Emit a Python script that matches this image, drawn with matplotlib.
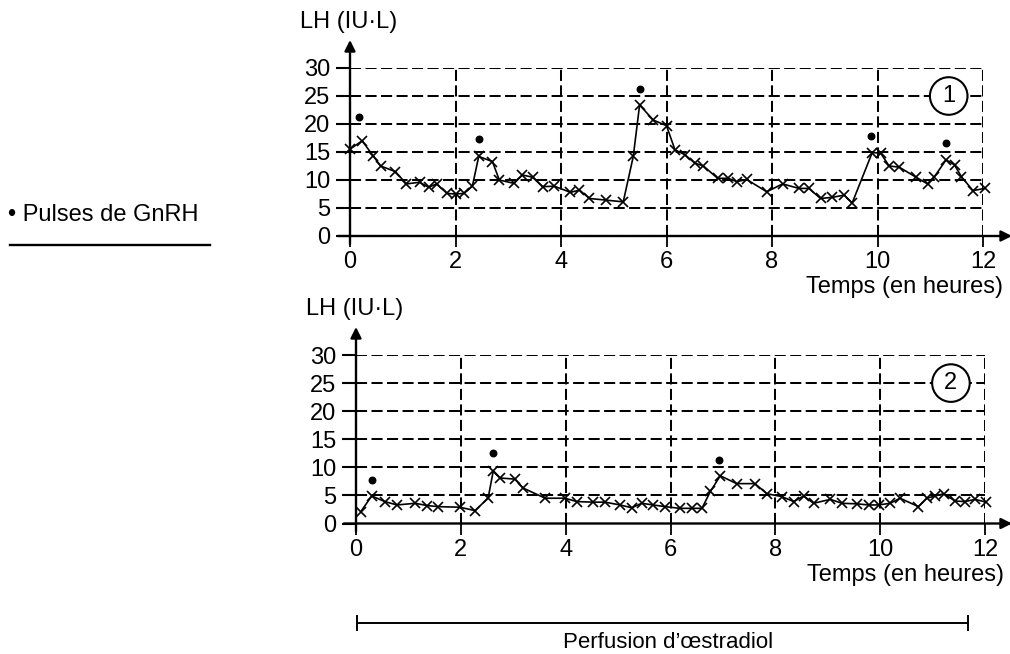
import matplotlib
matplotlib.use("Agg")
import matplotlib.pyplot as plt
from matplotlib.lines import Line2D

plt.rcParams['font.family'] = ['Liberation Sans', 'DejaVu Sans']

# ---- data: graph 1 (without oestradiol) ----
t1 = [0.0, 0.23, 0.44, 0.58, 0.86, 1.07, 1.32, 1.49, 1.64, 1.84, 2.0, 2.16, 2.32, 2.44,
      2.70, 2.83, 3.11, 3.27, 3.46, 3.65, 3.87, 4.18, 4.35, 4.54, 4.86, 5.18, 5.37, 5.49,
      5.75, 6.0, 6.16, 6.35, 6.54, 6.70, 6.97, 7.17, 7.33, 7.52, 7.90, 8.20, 8.51, 8.70,
      8.92, 9.14, 9.37, 9.52, 9.90, 10.06, 10.22, 10.41, 10.73, 10.95, 11.08, 11.30, 11.46,
      11.59, 11.81, 12.03]
lh1 = [15.5, 17.0, 14.3, 12.5, 11.5, 9.3, 9.6, 8.7, 9.3, 7.6, 7.5, 7.6, 8.9, 14.2,
       13.3, 10.0, 9.4, 10.9, 10.5, 8.8, 8.9, 7.8, 8.2, 6.7, 6.4, 6.1, 14.2, 23.4,
       20.7, 19.7, 15.4, 14.5, 13.0, 12.5, 10.3, 10.3, 9.7, 10.1, 7.9, 9.3, 8.5, 8.5,
       6.7, 6.9, 7.3, 5.9, 14.9, 14.8, 12.5, 12.3, 10.5, 9.3, 10.6, 13.6, 12.7,
       10.6, 8.1, 8.5]
pulse_t1 = [0.18, 2.44, 5.49, 9.87, 11.30]
pulse_y1 = [21.2, 17.3, 26.2, 17.9, 16.6]

# ---- data: graph 2 (oestradiol infusion) ----
t2 = [0.09, 0.30, 0.55, 0.78, 1.13, 1.35, 1.57, 1.98, 2.27, 2.52, 2.62, 2.75, 3.03, 3.19,
      3.61, 3.99, 4.21, 4.53, 4.75, 5.04, 5.26, 5.45, 5.67, 5.90, 6.18, 6.41, 6.60, 6.76,
      6.95, 7.26, 7.61, 7.84, 8.12, 8.35, 8.54, 8.73, 9.05, 9.27, 9.56, 9.78, 9.97, 10.19,
      10.38, 10.73, 10.89, 11.05, 11.21, 11.43, 11.62, 11.81, 12.02]
lh2 = [2.1, 4.9, 3.9, 3.3, 3.6, 3.2, 3.0, 2.9, 2.3, 4.5, 9.4, 8.1, 7.9, 6.3,
       4.5, 4.5, 3.9, 3.8, 3.8, 3.3, 2.8, 3.6, 3.3, 3.0, 2.7, 2.7, 2.7, 5.7,
       8.5, 7.1, 7.1, 5.3, 4.8, 3.9, 4.9, 3.6, 4.3, 3.6, 3.5, 3.3, 3.3, 3.6,
       4.5, 3.0, 4.5, 4.9, 5.3, 4.0, 3.9, 4.3, 3.8]
pulse_t2 = [0.30, 2.62, 6.93]
pulse_y2 = [7.8, 12.5, 11.3]

xticks = [0, 2, 4, 6, 8, 10, 12]
yticks = [0, 5, 10, 15, 20, 25, 30]
ylabel = "LH (IU\u00b7L)"
xlabel = "Temps (en heures)"

W, H = 1010, 654
fig = plt.figure(figsize=(W / 100, H / 100), dpi=100)
FS = 17


def make_axes(left, right, bottom, top, t, lh, pt, py, tag):
    ax = fig.add_axes([left / W, 1 - bottom / H, (right - left) / W, (bottom - top) / H])
    ax.set_xlim(0, 12)
    ax.set_ylim(0, 30)
    for s in ax.spines.values():
        s.set_visible(False)
    ax.set_xticks(xticks)
    ax.set_yticks(yticks)
    ax.tick_params(axis='y', direction='out', length=10, width=1.5, pad=4, labelsize=FS)
    ax.tick_params(axis='x', direction='out', length=8, width=1.3, pad=3, labelsize=FS)
    ax.grid(True, color='black', linestyle=(0, (5.5, 2.2)), linewidth=1.45, zorder=1)
    ax.set_axisbelow(True)
    # axes arrows
    pxx = (right - left) / 12.0
    pxy = (bottom - top) / 30.0
    ax.annotate('', xy=((1012 - left) / pxx, 0), xytext=(-12 / pxx, 0),
                arrowprops=dict(arrowstyle='-|>', lw=1.7, color='black', mutation_scale=16,
                                shrinkA=0, shrinkB=0), annotation_clip=False, zorder=4)
    ax.annotate('', xy=(0, 30 + 28 / pxy), xytext=(0, -8 / pxy),
                arrowprops=dict(arrowstyle='-|>', lw=1.7, color='black', mutation_scale=16,
                                shrinkA=0, shrinkB=0), annotation_clip=False, zorder=4)
    ax.plot(t, lh, color='black', lw=1.2, marker='x', markersize=6.5, mew=1.2,
            clip_on=False, zorder=3)
    ax.scatter(pt, py, s=22, color='black', zorder=3, clip_on=False)
    ax.text(11.35, 25, tag, ha='center', va='center', fontsize=FS, zorder=5,
            bbox=dict(boxstyle='circle,pad=0.33', fc='white', ec='black', lw=1.5))
    ax.text(-0.95, 30 + 46 / pxy, ylabel, ha='left', va='center', fontsize=FS)
    ax.text(12.37, -51 / pxy, xlabel, ha='right', va='center', fontsize=FS)
    return ax


make_axes(350, 983, 236, 68, t1, lh1, pulse_t1, pulse_y1, '1')
make_axes(356, 985, 523.5, 355, t2, lh2, pulse_t2, pulse_y2, '2')

# legend on the left
fig.text(8 / W, 1 - 215 / H, "\u2022 Pulses de GnRH", ha='left', va='center', fontsize=FS)
fig.add_artist(Line2D([10 / W, 210 / W], [1 - 245 / H, 1 - 245 / H], color='black', lw=1.7))

# perfusion bracket
yb = 1 - 623 / H
fig.add_artist(Line2D([357 / W, 968 / W], [yb, yb], color='black', lw=1.4))
for xp in (357, 968):
    fig.add_artist(Line2D([xp / W, xp / W], [yb - 7 / H, yb + 7 / H], color='black', lw=1.4))
fig.text(668 / W, 1 - 642 / H, "Perfusion d\u2019\u0153stradiol", ha='center', va='center',
         fontsize=16)

fig.savefig("out.png", dpi=100, facecolor='white')
